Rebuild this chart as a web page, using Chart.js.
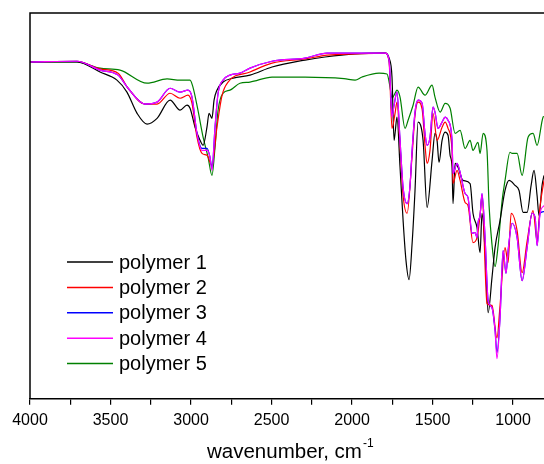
<!DOCTYPE html>
<html>
<head>
<meta charset="utf-8">
<script src="https://cdn.jsdelivr.net/npm/chart.js@4.4.0/dist/chart.umd.min.js"></script>
<style>
  html, body { margin: 0; padding: 0; background: #fff; }
  #wrap { width: 544px; height: 464px; }
</style>
</head>
<body>
<div id="wrap"><canvas id="ir"></canvas></div>
<script>
// IR spectra, [wavenumber cm-1, transmittance a.u.]
const polymer1 = [
  [4000,87.3],[3708,87.3],[3565,84.7],[3460,82.6],[3398,79.5],[3335,74.0],[3273,71.2],[3211,72.7],
  [3130,77.4],[3068,74.8],[3025,76.1],[3006,75.3],[2975,70.4],[2944,67.0],[2925,65.7],[2901,70.4],
  [2888,74.0],[2870,72.7],[2857,77.4],[2839,80.0],[2801,82.1],[2739,83.1],[2634,83.9],[2497,86.0],
  [2292,87.8],[2168,88.6],[1981,89.4],[1795,89.6],[1770,88.3],[1752,83.4],[1739,67.0],[1733,68.8],
  [1721,73.0],[1702,60.0],[1683,46.2],[1665,35.8],[1646,30.9],[1627,40.3],[1609,54.0],[1590,71.7],
  [1559,67.0],[1534,49.6],[1503,61.8],[1485,68.8],[1472,67.0],[1460,61.3],[1441,67.0],[1422,69.1],
  [1404,68.3],[1391,63.1],[1379,60.0],[1373,50.6],[1360,61.0],[1342,60.0],[1311,56.6],[1267,55.8],
  [1249,48.1],[1224,44.4],[1205,37.9],[1193,48.1],[1174,38.4],[1155,22.3],[1131,31.4],[1112,39.2],
  [1081,46.2],[1050,54.0],[1025,56.6],[988,55.3],[963,54.0],[938,48.3],[913,48.3],[888,55.3],
  [870,59.2],[851,52.7],[839,47.5],[820,55.3],[808,57.9]
];
const polymer2 = [
  [4000,87.3],[3708,87.5],[3565,85.5],[3453,84.4],[3391,80.5],[3286,76.4],[3211,76.4],[3130,79.2],
  [3068,77.9],[3019,78.7],[2994,76.6],[2963,67.8],[2932,63.6],[2901,63.1],[2870,60.5],[2839,70.4],
  [2807,78.7],[2770,82.1],[2634,84.7],[2497,87.0],[2292,88.1],[2155,89.1],[1981,89.4],[1795,89.6],
  [1770,87.3],[1752,70.1],[1733,74.0],[1721,76.9],[1702,65.7],[1683,52.7],[1658,48.1],[1627,63.1],
  [1609,73.5],[1590,76.9],[1565,75.1],[1547,65.7],[1534,61.0],[1516,64.4],[1497,74.0],[1472,67.0],
  [1441,70.4],[1422,71.7],[1404,70.1],[1379,64.4],[1373,55.8],[1348,59.2],[1329,56.6],[1298,50.9],
  [1280,50.1],[1249,40.5],[1224,41.8],[1205,47.5],[1193,52.7],[1162,24.7],[1131,24.2],[1100,15.8],
  [1081,24.2],[1050,39.2],[1031,35.3],[1012,48.1],[975,43.6],[944,32.7],[913,40.8],[876,48.8],
  [851,41.0],[832,50.1],[808,56.6]
];
const polymer3 = [
  [4000,87.3],[3708,87.5],[3565,85.2],[3453,83.9],[3391,80.5],[3286,76.4],[3211,76.9],[3130,80.5],
  [3068,79.5],[3019,80.0],[2994,78.2],[2963,68.8],[2932,64.9],[2901,64.9],[2882,62.6],[2870,59.7],
  [2851,70.4],[2832,79.2],[2801,82.6],[2758,83.9],[2696,84.4],[2634,85.7],[2497,87.5],[2292,88.3],
  [2155,89.6],[1981,89.6],[1795,89.6],[1770,87.8],[1752,73.5],[1739,76.1],[1721,79.5],[1702,67.0],
  [1683,54.8],[1658,50.6],[1640,55.3],[1627,64.4],[1609,74.3],[1590,77.4],[1565,76.6],[1547,68.8],
  [1534,65.7],[1516,67.8],[1497,75.6],[1485,74.3],[1466,70.1],[1441,71.7],[1422,73.0],[1404,72.2],
  [1379,67.0],[1373,58.4],[1348,61.0],[1329,58.7],[1298,53.2],[1280,52.2],[1255,42.9],[1236,43.1],
  [1224,41.8],[1218,45.5],[1205,47.5],[1193,53.2],[1174,41.8],[1155,25.5],[1131,23.6],[1112,17.7],
  [1100,12.0],[1081,21.0],[1062,38.4],[1044,32.5],[1031,38.4],[1006,45.5],[975,41.8],[944,30.6],
  [913,39.2],[882,48.1],[863,47.0],[851,39.7],[832,48.1],[808,48.5]
];
const polymer4 = [
  [4000,87.3],[3708,87.5],[3565,85.2],[3453,83.9],[3391,80.5],[3286,76.4],[3211,76.9],[3130,80.5],
  [3068,79.5],[3019,80.0],[2994,78.2],[2963,68.8],[2932,64.4],[2901,64.4],[2882,62.6],[2870,59.2],
  [2851,70.4],[2832,79.2],[2801,82.6],[2758,83.9],[2696,84.4],[2634,85.7],[2497,87.5],[2292,88.3],
  [2155,89.6],[1981,89.6],[1795,89.6],[1770,87.8],[1752,73.0],[1739,76.1],[1721,79.5],[1702,67.0],
  [1683,54.8],[1658,50.6],[1640,55.3],[1627,64.4],[1609,74.3],[1590,77.4],[1565,76.6],[1547,68.8],
  [1534,65.7],[1516,67.8],[1497,75.6],[1485,74.3],[1466,70.1],[1441,71.7],[1422,73.0],[1404,72.2],
  [1379,67.0],[1373,58.4],[1348,61.0],[1329,58.7],[1298,53.2],[1280,52.2],[1255,42.9],[1236,43.1],
  [1224,41.8],[1218,45.5],[1205,47.5],[1193,53.2],[1174,41.8],[1155,25.5],[1131,23.6],[1112,17.7],
  [1100,10.4],[1081,21.0],[1062,38.4],[1044,32.5],[1031,38.4],[1006,45.5],[975,41.8],[944,30.6],
  [913,39.2],[882,48.1],[863,47.0],[851,39.7],[832,48.1],[808,50.1]
];
const polymer5 = [
  [4000,87.3],[3708,87.3],[3565,85.7],[3441,85.2],[3273,81.8],[3149,82.9],[3068,82.6],[3006,82.6],
  [2988,80.8],[2957,74.8],[2925,67.8],[2894,62.6],[2870,57.9],[2851,65.2],[2832,74.8],[2801,79.2],
  [2758,80.0],[2696,81.8],[2634,82.1],[2497,83.4],[2292,83.4],[2050,83.0],[1981,82.6],[1938,83.4],
  [1832,84.4],[1783,84.2],[1764,80.8],[1752,77.9],[1733,79.2],[1721,80.0],[1702,78.2],[1671,70.1],
  [1652,72.2],[1621,76.1],[1590,80.8],[1547,78.7],[1503,81.3],[1485,78.2],[1453,74.3],[1422,76.6],
  [1391,75.3],[1360,68.8],[1329,69.6],[1298,64.9],[1267,67.0],[1249,64.4],[1218,66.5],[1205,63.6],
  [1186,68.8],[1162,64.4],[1149,50.0],[1131,40.0],[1112,34.3],[1093,39.7],[1068,51.4],[1050,56.6],
  [1019,63.9],[1006,63.6],[975,63.6],[944,57.9],[907,67.8],[876,68.8],[851,65.7],[814,73.0],[808,73.2]
];

const seriesNames = ["polymer 1", "polymer 2", "polymer 3", "polymer 4", "polymer 5"];
const xTicksMajor = [4000, 3500, 3000, 2500, 2000, 1500, 1000];
const xTicksMinor = [3750, 3250, 2750, 2250, 1750, 1250];

const FONT = '"Liberation Sans", Arial, sans-serif';

function toPoints(arr) {
  return arr.map(p => ({ x: p[0], y: p[1] }));
}

function line(label, pts, color, order) {
  return {
    label: label,
    data: toPoints(pts),
    borderColor: color,
    backgroundColor: color,
    borderWidth: 1.2,
    pointRadius: 0,
    cubicInterpolationMode: "monotone",
    order: order
  };
}

// frame, legend and axis title drawn by hand
const extras = {
  id: "extras",
  afterDraw(chart) {
    const ctx = chart.ctx;
    const a = chart.chartArea;
    ctx.save();
    ctx.strokeStyle = "#000";
    ctx.lineWidth = 1.5;
    ctx.beginPath();
    ctx.moveTo(a.left, a.bottom);
    ctx.lineTo(a.left, a.top);
    ctx.lineTo(a.right, a.top);
    ctx.stroke();

    // legend
    ctx.font = "20px " + FONT;
    ctx.textBaseline = "alphabetic";
    chart.data.datasets.forEach((ds, i) => {
      const y = 262 + i * 25.4;
      ctx.strokeStyle = ds.borderColor;
      ctx.lineWidth = 1.5;
      ctx.beginPath();
      ctx.moveTo(67, y);
      ctx.lineTo(113, y);
      ctx.stroke();
      ctx.fillStyle = "#000";
      ctx.fillText(ds.label, 119, y + 6.5);
    });

    // x title with superscript
    ctx.font = "20.5px " + FONT;
    const t = "wavenumber, cm";
    ctx.fillText(t, 207, 458);
    const w = ctx.measureText(t).width;
    ctx.font = "12px " + FONT;
    ctx.fillText("-1", 207 + w + 1, 447);
    ctx.restore();
  }
};

new Chart(document.getElementById("ir"), {
  type: "line",
  data: {
    datasets: [
      line(seriesNames[0], polymer1, "#000000", 3),
      line(seriesNames[1], polymer2, "#ff0000", 2),
      line(seriesNames[2], polymer3, "#0000ff", 1),
      line(seriesNames[3], polymer4, "#ff00ff", 0),
      line(seriesNames[4], polymer5, "#008000", 4)
    ]
  },
  options: {
    responsive: true,
    maintainAspectRatio: false,
    animation: false,
    layout: { padding: { left: 30, right: 0, top: 13, bottom: 28 } },
    plugins: {
      legend: { display: false },
      tooltip: { enabled: false }
    },
    scales: {
      x: {
        type: "linear",
        reverse: true,
        min: 808,
        max: 4000,
        afterBuildTicks: (scale) => {
          scale.ticks = xTicksMajor.concat(xTicksMinor)
            .sort((a, b) => a - b)
            .map(v => ({ value: v }));
        },
        border: { display: true, color: "#000", width: 1.5 },
        grid: { drawOnChartArea: false, drawTicks: true, tickLength: 6, color: "#000", lineWidth: 1.2 },
        ticks: {
          autoSkip: false,
          maxRotation: 0,
          padding: 6,
          color: "#000",
          font: { family: FONT, size: 16 },
          callback: (v) => (xTicksMajor.includes(v) ? String(v) : "")
        }
      },
      y: {
        display: false,
        min: 0,
        max: 100
      }
    }
  },
  plugins: [extras]
});
</script>
</body>
</html>
